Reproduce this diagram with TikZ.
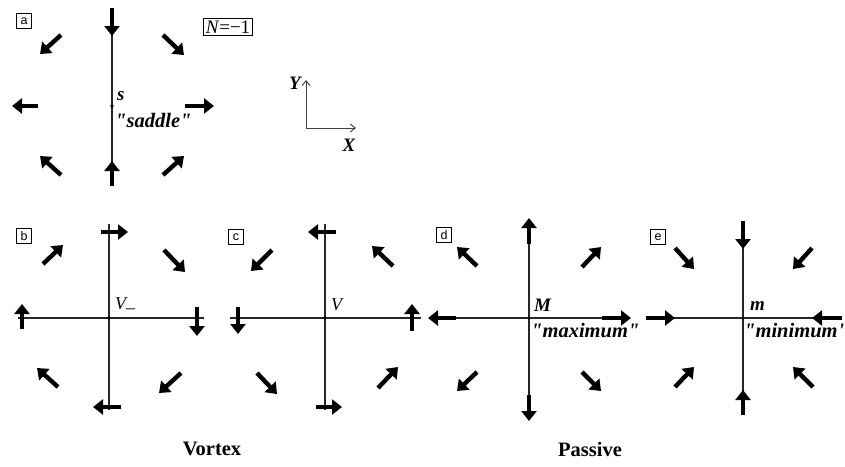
\documentclass[tikz,border=0pt]{standalone}
\usepackage{fontspec}
\setmainfont{Liberation Serif}[Ligatures=TeXOff]
\setsansfont{Liberation Sans}
\usetikzlibrary{arrows.meta}
\begin{document}
\begin{tikzpicture}[x=1pt,y=-1pt,
  fat/.style={line width=4.4pt,-{Triangle[length=10pt,width=15pt]}},
  axisline/.style={line width=1.1pt,black!85},
  panellab/.style={draw,line width=0.6pt,font=\sffamily\fontsize{12.5}{12.5}\selectfont,inner sep=0pt,minimum width=15pt,minimum height=15pt},
  bi/.style={font=\bfseries\itshape\fontsize{19}{19}\selectfont,inner sep=0pt},
  bq/.style={font=\bfseries\itshape\fontsize{20.5}{20.5}\selectfont,inner sep=0pt},
  it/.style={font=\itshape\fontsize{18}{18}\selectfont,inner sep=0pt},
  title/.style={font=\bfseries\fontsize{20.5}{20.5}\selectfont,inner sep=0pt},
  ax/.style={line width=0.9pt,black!75,-{Straight Barb[length=5pt,width=8pt]}}]
\clip (0,0) rectangle (845,466);
\fill[white] (0,0) rectangle (845,466);

% ---------- panel a ----------
\coordinate (sA) at (112,106);
\draw[axisline] (112,35) -- (112,185);
\fill (sA) circle (1.8pt);
\draw[fat] (112,8) -- (112,36);
\draw[fat] (112,186) -- (112,161);
\draw[fat] (38,106) -- (12,106);
\draw[fat] (185,106) -- (214,106);
\draw[fat] (61,35) -- (40,54);
\draw[fat] (163,35) -- (184,55);
\draw[fat] (61,175) -- (40,156);
\draw[fat] (163,175) -- (184,156);
\node[panellab] (la) at (24,21) {a};
\node[draw,line width=0.7pt,inner sep=2pt,font=\fontsize{19}{19}\selectfont] (nbox) at (228,27) {\textit{N}=−1};
\node[bi,anchor=west] (sl) at (117,96) {s};
\node[bq,anchor=west] (saddle) at (115,120) {"saddle"};

% ---------- axes ----------
\coordinate (O) at (306,128);
\coordinate (Yt) at (306,80);
\coordinate (Xt) at (356,128);
\draw[ax] (O) -- (Yt);
\draw[ax] (O) -- (Xt);
\node[bi] (Yl) at (295,83) {Y};
\node[bi] (Xl) at (349,145) {X};

% ---------- panel b ----------
\coordinate (cB) at (109,318);
\draw[axisline] (18,318) -- (204,318);
\draw[axisline] (109,224) -- (109,410);
\fill (cB) circle (1.6pt);
\draw[fat] (101,232) -- (128,232);
\draw[fat] (121,407) -- (93,407);
\draw[fat] (22,329) -- (22,304);
\draw[fat] (197,307) -- (197,336);
\draw[fat] (43,264) -- (63,245);
\draw[fat] (164,250) -- (185,272);
\draw[fat] (58,387) -- (37,368);
\draw[fat] (181,373) -- (159,393);
\node[panellab] (lb) at (24,236) {b};
\node[it,anchor=west] (vm) at (115,306) {V\raisebox{-4pt}{–}};

% ---------- panel c ----------
\coordinate (cC) at (325,318);
\draw[axisline] (230,318) -- (421,318);
\draw[axisline] (325,224) -- (325,410);
\fill (cC) circle (1.6pt);
\draw[fat] (336,232) -- (308,232);
\draw[fat] (316,407) -- (342,407);
\draw[fat] (238,307) -- (238,334);
\draw[fat] (412,331) -- (412,304);
\draw[fat] (272,250) -- (251,271);
\draw[fat] (393,266) -- (372,246);
\draw[fat] (257,373) -- (277,394);
\draw[fat] (378,388) -- (398,367);
\node[panellab] (lc) at (236,237) {c};
\node[it,anchor=west] (vl) at (331,305) {V};

% ---------- panel d ----------
\coordinate (cD) at (529,318);
\draw[axisline] (429,318) -- (630,318);
\draw[axisline] (529,219) -- (529,420);
\fill (cD) circle (1.6pt);
\draw[fat] (529,244) -- (529,218);
\draw[fat] (529,395) -- (529,421);
\draw[fat] (456,318) -- (428,318);
\draw[fat] (602,318) -- (631,318);
\draw[fat] (477,266) -- (457,247);
\draw[fat] (582,267) -- (601,247);
\draw[fat] (477,372) -- (457,391);
\draw[fat] (582,372) -- (601,391);
\node[panellab] (ld) at (444,235) {d};
\node[bi,anchor=west] (Ml) at (534,305) {M};
\node[bq,anchor=west] (maxl) at (531,331) {"maximum"};

% ---------- panel e ----------
\coordinate (cE) at (743,318);
\draw[axisline] (647,318) -- (842,318);
\draw[axisline] (743,222) -- (743,414);
\fill (cE) circle (1.6pt);
\draw[fat] (743,221) -- (743,249);
\draw[fat] (743,415) -- (743,390);
\draw[fat] (646,318) -- (675,318);
\draw[fat] (842,318) -- (812,318);
\draw[fat] (675,248) -- (694,269);
\draw[fat] (812,248) -- (793,269);
\draw[fat] (675,387) -- (694,367);
\draw[fat] (813,387) -- (793,367);
\node[panellab] (le) at (658,237) {e};
\node[bi,anchor=west] (ml) at (750,306) {m};
\node[bq,anchor=west] (minl) at (744,331) {"minimum"};

% ---------- titles ----------
\node[title] (vortex) at (212,449) {Vortex};
\node[title] (passive) at (590,449) {Passive};
\end{tikzpicture}
\end{document}
